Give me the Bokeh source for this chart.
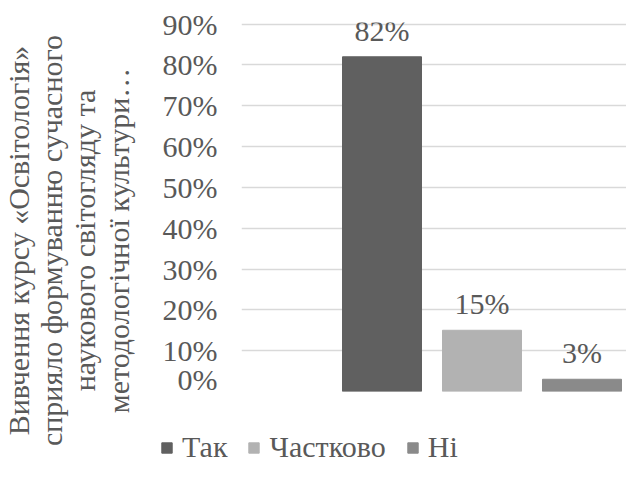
import math
from bokeh.plotting import figure
from bokeh.layouts import row, column
from bokeh.models import (ColumnDataSource, Range1d, FixedTicker, PrintfTickFormatter,
                          Legend, LegendItem, LabelSet, Label)
from bokeh.embed import file_html
from bokeh.resources import INLINE

categories = ["Так", "Частково", "Ні"]
values = [82, 15, 3]
value_labels = ["82%", "15%", "3%"]
colors = ["#606060", "#b2b2b2", "#8a8a8a"]
y_ticks = [0, 10, 20, 30, 40, 50, 60, 70, 80, 90]
y_title_lines = ["Вивчення курсу «Освітологія»",
                 "сприяло формуванню сучасного",
                 "наукового світогляду та",
                 "методологічної культури…"]

FONT = "Liberation Serif, Times New Roman, serif"
TXT = "#595959"
FS = "30px"
W_TOTAL, H_TOTAL = 626, 464
W_TITLE = 150
H_MAIN = 395

# ---- left strip holding the rotated, multi-line y-axis title ----
t = figure(width=W_TITLE, height=H_TOTAL, output_backend="svg", toolbar_location=None,
           x_axis_type=None, y_axis_type=None, min_border=0, frame_align=False,
           x_range=Range1d(0, 1), y_range=Range1d(0, 1))
t.outline_line_color = None
t.xgrid.visible = False
t.ygrid.visible = False
title_baselines = [18, 51, 84, 118]
for i, line in enumerate(y_title_lines):
    t.add_layout(Label(x=title_baselines[i], y=H_TOTAL - 240, x_units="screen",
                       y_units="screen", text=line, angle=math.pi / 2,
                       text_align="center", text_baseline="alphabetic",
                       text_font=FONT, text_font_size=FS, text_color=TXT))

# ---- main bar chart ----
x_pos = [i + 1 for i in range(len(categories))]
source = ColumnDataSource(dict(x=x_pos, top=values, cat=categories,
                               lab=value_labels, color=colors))

p = figure(width=W_TOTAL - W_TITLE, height=H_MAIN, output_backend="svg",
           toolbar_location=None, frame_align=False,
           x_range=Range1d(-0.405, 3.445), y_range=Range1d(0, 90.4),
           min_border_left=241 - W_TITLE, min_border_right=0, min_border_top=22,
           min_border_bottom=H_MAIN - 391)
p.outline_line_color = None
p.background_fill_color = "white"
p.border_fill_color = "white"

p.vbar(x="x", top="top", width=0.79, bottom=0, color="color", source=source)

p.xgrid.visible = False
p.xaxis.visible = False
p.ygrid.grid_line_color = "#d9d9d9"
p.ygrid.grid_line_width = 1.3

ya = p.yaxis[0]
ya.ticker = FixedTicker(ticks=y_ticks)
ya.formatter = PrintfTickFormatter(format="%d%%")
ya.axis_line_color = None
ya.major_tick_line_color = None
ya.minor_tick_line_color = None
ya.major_label_text_font = FONT
ya.major_label_text_font_size = FS
ya.major_label_text_color = TXT
ya.major_label_standoff = 18

labels = LabelSet(x="x", y="top", text="lab", source=source, text_align="center",
                  text_baseline="alphabetic", y_offset=16, text_font=FONT,
                  text_font_size=FS, text_color=TXT)
p.add_layout(labels)

# ---- legend strip under the chart (swatches come from the same bar data/colours;
#      the strip's ranges keep those bars out of view) ----
lf = figure(width=W_TOTAL - W_TITLE, height=H_TOTAL - H_MAIN, output_backend="svg",
            toolbar_location=None, x_axis_type=None, y_axis_type=None, min_border=0,
            frame_align=False, x_range=Range1d(10, 11), y_range=Range1d(200, 201))
lf.outline_line_color = None
lf.xgrid.visible = False
lf.ygrid.visible = False
r2 = lf.vbar(x="x", top="top", width=0.79, bottom=0, color="color", source=source)
items = [LegendItem(label=c, renderers=[r2], index=i) for i, c in enumerate(categories)]

legend = Legend(items=items, orientation="horizontal", location=(10, 0),
                label_text_font=FONT, label_text_font_size=FS, label_text_color=TXT,
                glyph_width=13, glyph_height=13, label_standoff=9, spacing=20,
                border_line_color=None, background_fill_alpha=0, padding=0, margin=0)
lf.add_layout(legend)

layout = row(t, column(p, lf))
open("out.html", "w").write(file_html(layout, INLINE))
